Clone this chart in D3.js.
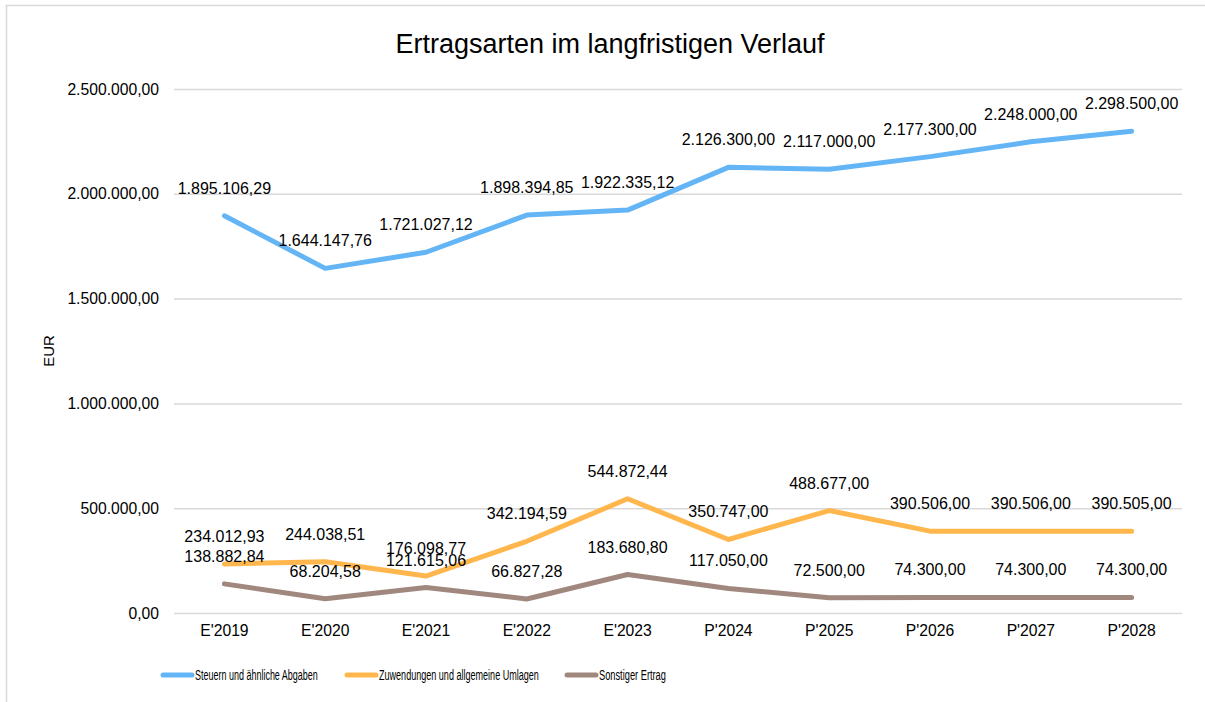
<!DOCTYPE html>
<meta charset="utf-8">
<style>
body { margin: 0; background: #fff; }
* { font-family: "Liberation Sans", Arial, sans-serif; }
</style>
<body>
<script src="https://cdn.jsdelivr.net/npm/d3@7"></script>
<script>

var years = ["E'2019", "E'2020", "E'2021", "E'2022", "E'2023", "P'2024", "P'2025", "P'2026", "P'2027", "P'2028"];
var steuern = [1895106.29, 1644147.76, 1721027.12, 1898394.85, 1922335.12, 2126300.00, 2117000.00, 2177300.00, 2248000.00, 2298500.00];
var zuwendungen = [234012.93, 244038.51, 176098.77, 342194.59, 544872.44, 350747.00, 488677.00, 390506.00, 390506.00, 390505.00];
var sonstiger = [138882.84, 68204.58, 121615.06, 66827.28, 183680.80, 117050.00, 72500.00, 74300.00, 74300.00, 74300.00];
var yTicks = [0, 500000, 1000000, 1500000, 2000000, 2500000];

var series = [
  {name: "Steuern und ähnliche Abgaben", values: steuern, color: "#64B5F6"},
  {name: "Zuwendungen und allgemeine Umlagen", values: zuwendungen, color: "#FFB74D"},
  {name: "Sonstiger Ertrag", values: sonstiger, color: "#A1887F"}
];

var W = 1205, H = 702;
var margin = {top: 89, right: 23, bottom: 89, left: 174},
    width = W - margin.left - margin.right,
    height = H - margin.top - margin.bottom;

var de = d3.formatLocale({decimal: ",", thousands: ".", grouping: [3], currency: ["", " €"]});
var fmt = de.format(",.2f");

var svg = d3.select("body").append("svg")
    .attr("width", W)
    .attr("height", H);

// chart border (cropped at right/bottom)
svg.append("path")
    .attr("d", "M6.5," + H + "V5.5H" + W)
    .attr("fill", "none")
    .attr("stroke", "#d9d9d9")
    .attr("stroke-width", 1.5);

var g = svg.append("g")
    .attr("transform", "translate(" + margin.left + "," + margin.top + ")");

var x = d3.scaleBand().domain(years).range([0, width]);
var y = d3.scaleLinear().domain([0, 2500000]).range([height, 0]);

// gridlines + y axis
var yAxis = g.append("g")
    .call(d3.axisLeft(y).tickValues(yTicks).tickFormat(fmt).tickSize(-width).tickPadding(15));
yAxis.select(".domain").remove();
yAxis.selectAll(".tick line").attr("stroke", "#d9d9d9").attr("stroke-width", 1.5);
yAxis.selectAll(".tick text").attr("font-size", "15.7px").attr("fill", "#000");

// x axis labels
var xAxis = g.append("g")
    .attr("transform", "translate(0," + height + ")")
    .call(d3.axisBottom(x).tickSize(0).tickPadding(12));
xAxis.select(".domain").remove();
xAxis.selectAll(".tick text").attr("font-size", "15.7px").attr("fill", "#000");

var line = d3.line()
    .x(function(d, i) { return x(years[i]) + x.bandwidth() / 2; })
    .y(function(d) { return y(d); });

series.forEach(function(s) {
  g.append("path")
      .datum(s.values)
      .attr("d", line)
      .attr("fill", "none")
      .attr("stroke", s.color)
      .attr("stroke-width", 5)
      .attr("stroke-linejoin", "round")
      .attr("stroke-linecap", "round");
});

series.forEach(function(s) {
  g.selectAll(null)
      .data(s.values)
    .enter().append("text")
      .attr("x", function(d, i) { return x(years[i]) + x.bandwidth() / 2; })
      .attr("y", function(d) { return y(d) - 22; })
      .attr("text-anchor", "middle")
      .attr("font-size", "16px")
      .attr("fill", "#000")
      .text(function(d) { return fmt(d); });
});

// title
svg.append("text")
    .attr("x", 610)
    .attr("y", 53)
    .attr("text-anchor", "middle")
    .attr("font-size", "27px")
    .attr("fill", "#000")
    .text("Ertragsarten im langfristigen Verlauf");

// y axis title
svg.append("text")
    .attr("transform", "translate(54,351)rotate(-90)")
    .attr("text-anchor", "middle")
    .attr("font-size", "15px")
    .attr("fill", "#000")
    .text("EUR");

// legend (condensed text as in the original)
var legendX = [161, 345, 565];
var legendW = [123, 160, 67];
var legend = svg.selectAll(".legend")
    .data(series)
  .enter().append("g")
    .attr("transform", function(d, i) { return "translate(" + legendX[i] + ",675)"; });
legend.append("line")
    .attr("x1", 2).attr("x2", 31)
    .attr("stroke", function(d) { return d.color; })
    .attr("stroke-width", 5)
    .attr("stroke-linecap", "round");
legend.append("text")
    .attr("font-size", "14.5px")
    .attr("fill", "#000")
    .text(function(d) { return d.name; })
    .attr("transform", function(d, i) {
      var s = legendW[i] / this.getComputedTextLength();
      return "translate(34,5) scale(" + s + ",1)";
    });

</script>
</body>
</html>
